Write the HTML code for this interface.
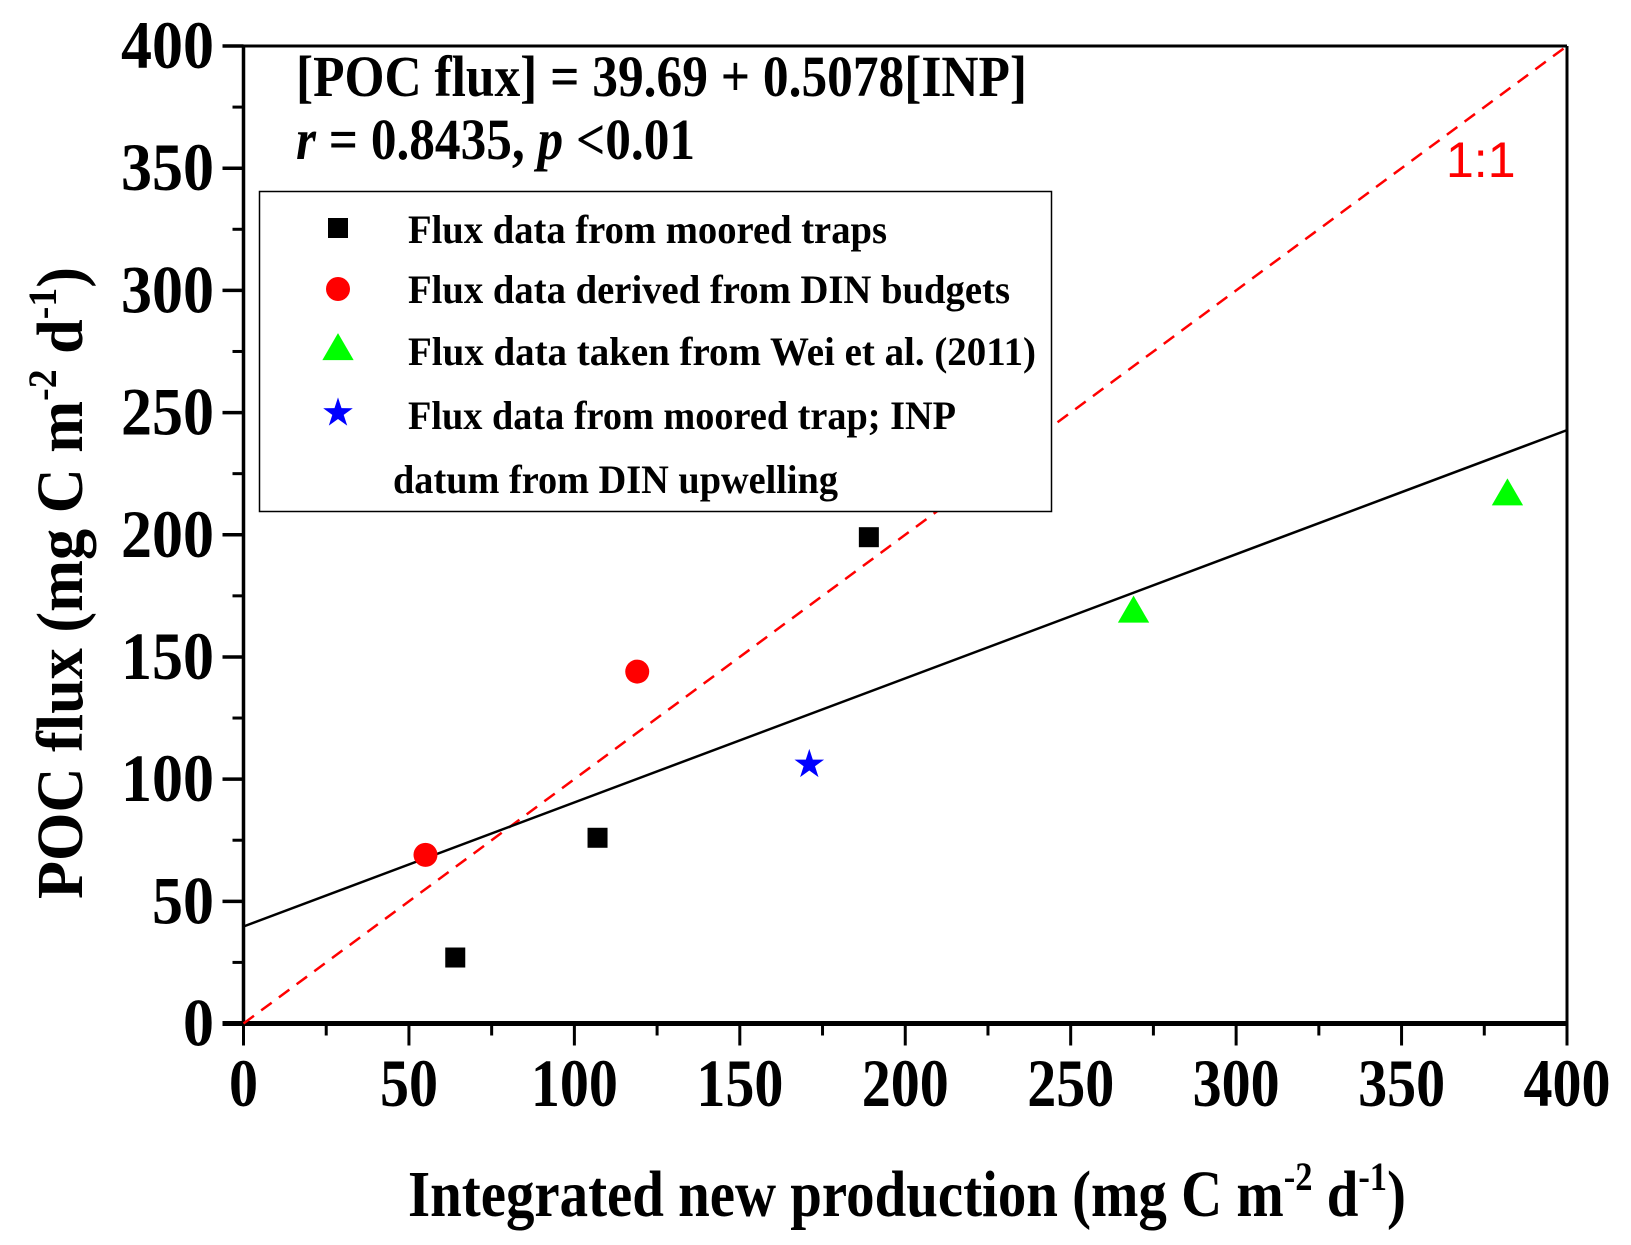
<!DOCTYPE html>
<html><head><meta charset="utf-8"><style>html,body{margin:0;padding:0;background:#fff}svg{display:block}</style></head>
<body>
<svg id="chart" width="1631" height="1245" viewBox="0 0 1631 1245" xmlns="http://www.w3.org/2000/svg" font-family="'Liberation Serif', serif" font-weight="bold"></svg>
<script>
const xTicks=[0,50,100,150,200,250,300,350,400];
const yTicks=[0,50,100,150,200,250,300,350,400];
const mooredX=[64,107,189], mooredY=[27,76,199];
const dinX=[55,119], dinY=[69,144];
const weiX=[269,382], weiY=[169,217];
const starX=[171], starY=[106];
const regIntercept=39.69, regSlope=0.5078;

const X0=243.5,X1=1567,Y0=1023.5,Y1=46;
const sx=v=>X0+(X1-X0)*v/400, sy=v=>Y0-(Y0-Y1)*v/400;
const svg=document.getElementById('chart');
const NS='http://www.w3.org/2000/svg';
function mk(tag,attrs,parent){const e=document.createElementNS(NS,tag);for(const k in attrs)e.setAttribute(k,attrs[k]);(parent||svg).appendChild(e);return e;}

const frame=mk('g',{});


mk('line',{x1:X0,y1:Y1,x2:X1,y2:Y1,stroke:'#000','stroke-width':3},frame);
mk('line',{x1:X1,y1:Y1,x2:X1,y2:Y0,stroke:'#000','stroke-width':3},frame);
mk('line',{x1:X0,y1:Y1-1,x2:X0,y2:Y0,stroke:'#000','stroke-width':3.5},frame);
mk('line',{x1:X0-21,y1:Y0,x2:X1+1,y2:Y0,stroke:'#000','stroke-width':5},frame);

const yAxis=mk('g',{});


yTicks.forEach((v,i)=>{
  const y=sy(v);
  mk('line',{x1:X0-21,y1:y,x2:X0,y2:y,stroke:'#000','stroke-width':3.5},yAxis);
  if(i<yTicks.length-1){const ym=sy(v+25);mk('line',{x1:X0-11,y1:ym,x2:X0,y2:ym,stroke:'#000','stroke-width':3},yAxis);}
  const t=mk('text',{x:214,y:y+22,'text-anchor':'end','font-size':68,textLength:String(v).length*31,lengthAdjust:'spacingAndGlyphs'},yAxis);
  t.textContent=v;
  
  
});
const xAxis=mk('g',{});


xTicks.forEach((v,i)=>{
  const x=sx(v);
  mk('line',{x1:x,y1:Y0,x2:x,y2:Y0+22,stroke:'#000','stroke-width':3},xAxis);
  if(i<xTicks.length-1){const xm=sx(v+25);mk('line',{x1:xm,y1:Y0,x2:xm,y2:Y0+12,stroke:'#000','stroke-width':3},xAxis);}
  const t=mk('text',{x:x,y:1106,'text-anchor':'middle','font-size':68,textLength:String(v).length*29,lengthAdjust:'spacingAndGlyphs'},xAxis);
  t.textContent=v;
  
  
});

const xt=mk('text',{x:408,y:1216,'font-size':66,textLength:998,lengthAdjust:'spacingAndGlyphs'});
xt.innerHTML='Integrated new production (mg C m<tspan dy="-26" font-size="40">-2</tspan><tspan dy="26"> d</tspan><tspan dy="-26" font-size="40">-1</tspan><tspan dy="26">)</tspan>';


const yt=mk('text',{x:0,y:0,'font-size':66,'text-anchor':'middle',transform:'translate(82,583) rotate(-90)',textLength:632,lengthAdjust:'spacingAndGlyphs'});
yt.innerHTML='POC flux (mg C m<tspan dy="-26" font-size="40">-2</tspan><tspan dy="26"> d</tspan><tspan dy="-26" font-size="40">-1</tspan><tspan dy="26">)</tspan>';



const one=mk('line',{x1:sx(0),y1:sy(0),x2:sx(400),y2:sy(400),stroke:'#f00','stroke-width':2.5,'stroke-dasharray':'13 9'});


const reg=mk('line',{x1:sx(0),y1:sy(regIntercept),x2:sx(400),y2:sy(regIntercept+regSlope*400),stroke:'#000','stroke-width':2.5});


const lbl=mk('text',{x:1446,y:177,'font-size':50,'font-weight':'normal','font-family':"'Liberation Sans', sans-serif",fill:'#f00'});
lbl.textContent='1:1';



const eq1=mk('text',{x:296,y:96,'font-size':58,textLength:731,lengthAdjust:'spacingAndGlyphs'});
eq1.textContent='[POC flux] = 39.69 + 0.5078[INP]';


const eq2=mk('text',{x:296,y:159,'font-size':58,textLength:399,lengthAdjust:'spacingAndGlyphs'});
eq2.innerHTML='<tspan font-style="italic">r</tspan> = 0.8435, <tspan font-style="italic">p</tspan> &lt;0.01';



function square(x,y,p,s){return mk('rect',{x:x-s/2,y:y-s/2,width:s,height:s,fill:'#000'},p);}
function circle(x,y,p,s){return mk('circle',{cx:x,cy:y,r:s/2,fill:'#f00'},p);}
function tri(x,y,p,s){return mk('polygon',{points:`${x},${y-s*0.55} ${x-s*0.58},${y+s*0.45} ${x+s*0.58},${y+s*0.45}`,fill:'#0f0'},p);}
function star(x,y,p,s){let pts=[];for(let i=0;i<10;i++){const r=i%2?s*0.2:s*0.52,a=-Math.PI/2+i*Math.PI/5;pts.push((x+r*Math.cos(a)).toFixed(1)+','+(y+r*Math.sin(a)).toFixed(1));}return mk('polygon',{points:pts.join(' '),fill:'#00f'},p);}
const pts=mk('g',{});


mooredX.forEach((v,i)=>{const e=square(sx(v),sy(mooredY[i]),pts,20);});
dinX.forEach((v,i)=>{const e=circle(sx(v),sy(dinY[i]),pts,24);});
weiX.forEach((v,i)=>{const e=tri(sx(v),sy(weiY[i]),pts,27);});
starX.forEach((v,i)=>{const e=star(sx(v),sy(starY[i]),pts,30);});

const lg=mk('g',{});


mk('rect',{x:259.5,y:191.5,width:792,height:320,fill:'#fff',stroke:'#000','stroke-width':1.5},lg);
const rows=[['Flux data from moored traps',228,243,479,square],['Flux data derived from DIN budgets',289,303,602,circle],['Flux data taken from Wei et al. (2011)',348,365,628,tri],['Flux data from moored trap; INP',413,429,548,star]];
const sizes=[20,24,27,30];
rows.forEach((r,i)=>{
  const e=r[4](338,r[1],lg,sizes[i]);
  
  
  const t=mk('text',{x:408,y:r[2],'font-size':40,textLength:r[3],lengthAdjust:'spacingAndGlyphs'},lg);
  t.textContent=r[0];
  
  
});
const t5=mk('text',{x:393,y:493,'font-size':40,textLength:445,lengthAdjust:'spacingAndGlyphs'},lg);
t5.textContent='datum from DIN upwelling';


</script>
</body></html>
